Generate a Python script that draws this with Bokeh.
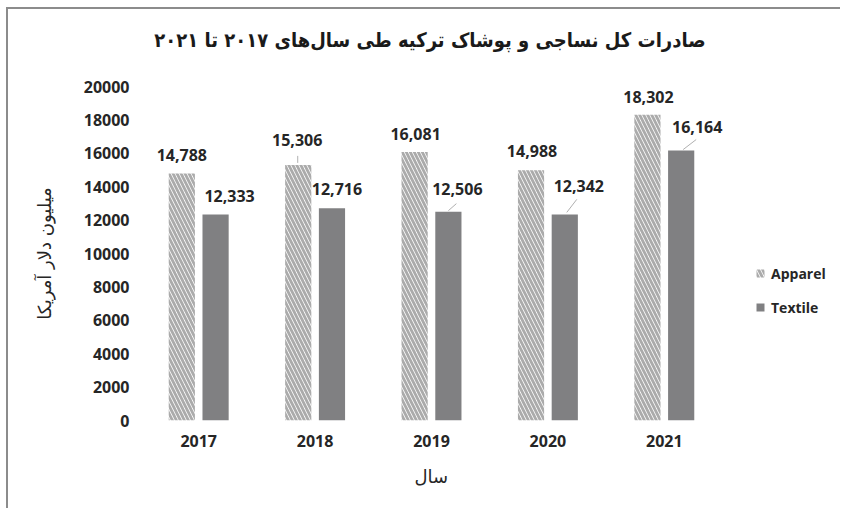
from bokeh.plotting import figure
from bokeh.models import ColumnDataSource, Range1d, FixedTicker, Legend, LegendItem, Title
from bokeh.core.properties import value
from bokeh.embed import file_html
from bokeh.resources import INLINE

# ---------------- data ----------------
title_text = "صادرات کل نساجی و پوشاک ترکیه طی سال‌های ۲۰۱۷ تا ۲۰۲۱"
years = ["2017", "2018", "2019", "2020", "2021"]
apparel = [14788, 15306, 16081, 14988, 18302]
textile = [12333, 12716, 12506, 12342, 16164]
y_ticks = [0, 2000, 4000, 6000, 8000, 10000, 12000, 14000, 16000, 18000, 20000]
y_label = "میلیون دلار آمریکا"
x_label = "سال"
series_names = ["Apparel", "Textile"]

# ---------------- layout / style ----------------
W, H = 834, 501
FL, FR_CAT, FT, FB = 132, 714, 77, 411      # category area edges in canvas px
PX_X = (FR_CAT - FL) / 5.0                  # px per category
PX_Y = (FB - FT) / 20000.0                  # px per unit value
X_END = -0.5 + (W - FL) / PX_X              # frame runs to the right edge (legend area)
BAR_W = 0.225
OFF = 0.145

# data-label pixel nudges (screen px, negative = up)
app_dx = [0, -1, 1, 1, 1]
app_dy = [-19, -25, -18, -19, -18]
tex_dx = [14, 5, 9, 14, 16]
tex_dy = [-19, -19, -23, -28, -24]

idx = list(range(len(years)))
src_a = ColumnDataSource(dict(
    x=[i - OFF for i in idx], top=apparel,
    lbl=[f"{v:,}" for v in apparel], dx=app_dx, dy=app_dy))
src_t = ColumnDataSource(dict(
    x=[i + OFF for i in idx], top=textile,
    lbl=[f"{v:,}" for v in textile], dx=tex_dx, dy=tex_dy))

p = figure(width=W, height=H, output_backend="svg", toolbar_location=None,
           x_range=Range1d(-0.5, X_END), y_range=Range1d(0, 20000),
           min_border_left=FL, min_border_right=0,
           min_border_top=FT, min_border_bottom=H - FB)
p.styles = {"margin-left": "6px", "margin-top": "7px",
            "border-left": "2px solid #8c8c8c", "border-top": "2px solid #8c8c8c"}
p.background_fill_color = "white"
p.border_fill_color = "white"
p.outline_line_color = None
p.xgrid.visible = False
p.ygrid.visible = False

p.title.text = title_text
p.title.align = "right"
p.title.offset = 137
p.title.text_font = "DejaVu Sans Condensed"
p.title.text_font_style = "bold"
p.title.text_font_size = "20px"
p.title.text_color = "#1a1a1a"
p.title.standoff = 20

# invisible spacer between title and plot area
p.add_layout(Title(text=" ", text_font_size="1px", standoff=22), "above")

r_a = p.vbar(x="x", top="top", width=BAR_W, source=src_a,
             fill_color="white", line_color=None,
             hatch_pattern="left_diagonal_line", hatch_color="#ababab",
             hatch_weight=2.8, hatch_scale=8)
r_t = p.vbar(x="x", top="top", width=BAR_W, source=src_t,
             fill_color="#808082", line_color=None)

for s in (src_a, src_t):
    p.text(x="x", y="top", text="lbl", source=s, x_offset="dx", y_offset="dy",
           text_align="center", text_baseline="middle",
           text_font=value("Open Sans"), text_font_style="bold",
           text_font_size="16px", text_color="#262626")

# leader lines (from bar top towards displaced labels), pixel nudges
lead_series = [apparel, textile, textile, textile]
lead_i = [1, 2, 3, 4]
lead_off = [-OFF, OFF, OFF, OFF]
lead_px = [(-0.5, -2, -0.5, -9), (0, -1, 8, -8), (2, -2, 12, -15), (2, -1, 15, -11)]
x0 = [lead_i[k] + lead_off[k] + lead_px[k][0] / PX_X for k in range(4)]
x1 = [lead_i[k] + lead_off[k] + lead_px[k][2] / PX_X for k in range(4)]
y0 = [lead_series[k][lead_i[k]] - lead_px[k][1] / PX_Y for k in range(4)]
y1 = [lead_series[k][lead_i[k]] - lead_px[k][3] / PX_Y for k in range(4)]
p.segment(x0=x0, y0=y0, x1=x1, y1=y1, line_color="#b0b0b0", line_width=1)

# axes
p.xaxis.ticker = FixedTicker(ticks=idx)
p.xaxis.major_label_overrides = {i: y for i, y in zip(idx, years)}
p.yaxis.ticker = FixedTicker(ticks=y_ticks)
for ax in (p.xaxis[0], p.yaxis[0]):
    ax.axis_line_color = None
    ax.major_tick_line_color = None
    ax.minor_tick_line_color = None
    ax.major_tick_out = 0
    ax.major_tick_in = 0
    ax.major_label_text_font = "Open Sans"
    ax.major_label_text_font_style = "bold"
    ax.major_label_text_color = "#262626"
    ax.axis_label_text_font = "DejaVu Sans"
    ax.axis_label_text_font_style = "normal"
    ax.axis_label_text_color = "#262626"
p.xaxis.major_label_text_font_size = "16px"
p.yaxis.major_label_text_font_size = "16px"
p.xaxis.major_label_standoff = 14
p.yaxis.major_label_standoff = 11
p.yaxis.axis_label = y_label
p.yaxis.axis_label_text_font_size = "18px"
p.yaxis.axis_label_standoff = 26

# x-axis title, centred under the category area (the frame also holds the legend)
p.add_layout(Title(text=x_label, align="left", offset=274, standoff=28,
                   text_font="DejaVu Sans", text_font_style="normal",
                   text_font_size="18px", text_color="#262626"), "below")

legend = Legend(items=[LegendItem(label=series_names[0], renderers=[r_a]),
                       LegendItem(label=series_names[1], renderers=[r_t])],
                location=(615, 103), orientation="vertical",
                padding=0, margin=0, spacing=14,
                glyph_width=10, glyph_height=10, label_height=20,
                label_standoff=6, border_line_color=None,
                background_fill_alpha=0,
                label_text_font="Open Sans", label_text_font_style="bold",
                label_text_font_size="14px", label_text_color="#262626")
p.add_layout(legend, "center")

open("out.html", "w").write(file_html(p, INLINE))
